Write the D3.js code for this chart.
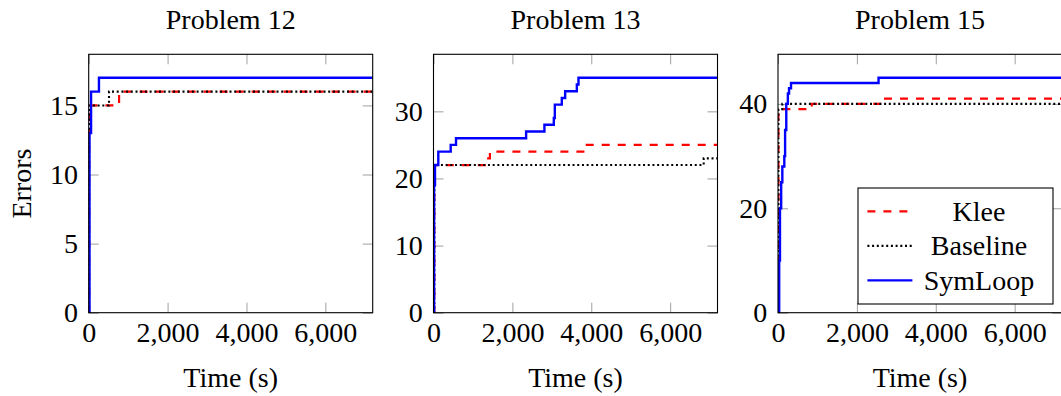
<!DOCTYPE html>
<html>
<head>
<meta charset="utf-8">
<script src="https://cdn.jsdelivr.net/npm/d3@7"></script>
<style>
  body { margin: 0; background: #fff; }
  svg text { font-family: "Liberation Serif", "Times New Roman", serif; fill: #000; }
</style>
</head>
<body>
<svg id="chart"></svg>
<script>
var width = 1061, height = 396;

// [time (s), errors] step points
var p12Klee     = [[0,0],[10,15],[770,16],[7200,16]];
var p12Baseline = [[0,0],[10,15],[515,16],[7200,16]];
var p12SymLoop  = [[0,0],[20,13],[60,16],[260,17],[7200,17]];

var p13Klee     = [[0,0],[20,22],[1350,23],[1430,24],[3830,25],[7200,25]];
var p13Baseline = [[0,0],[20,22],[6850,23],[7200,23]];
var p13SymLoop  = [[0,0],[15,19],[38,22],[122,24],[436,25],[571,26],[2348,27],[2812,28],
                   [3050,29],[3076,31],[3253,32],[3338,33],[3634,34],[3676,35],[7200,35]];

var p15Klee     = [[0,0],[10,39],[856,40],[2635,41],[7200,41]];
var p15Baseline = [[0,0],[10,39],[110,40],[7200,40]];
var p15SymLoop  = [[0,0],[30,10],[50,20],[80,25],[110,28],[160,30],[180,35],[210,40],
                   [250,42],[280,43],[330,44],[2549,45],[7200,45]];

var titles = ["Problem 12", "Problem 13", "Problem 15"];
var xTicks = [0, 2000, 4000, 6000];
var yTicks = [[0,5,10,15], [0,10,20,30], [0,20,40]];
var seriesNames = ["Klee", "Baseline", "SymLoop"];
var panelData = [
  [p12Klee, p12Baseline, p12SymLoop],
  [p13Klee, p13Baseline, p13SymLoop],
  [p15Klee, p15Baseline, p15SymLoop]
];

// styles per series
var styles = {
  "Klee":     {color: "#ff0000", dash: "8,8",   w: 2.2},
  "Baseline": {color: "#000000", dash: "2,2.7", w: 2.1},
  "SymLoop":  {color: "#0000ff", dash: null,    w: 2.4}
};

var fontSize = "28px";
var panelLeft = [88.7, 433.5, 778];
var plotW = 284, plotTop = 54.3, plotBottom = 312.7;

var svg = d3.select("#chart").attr("width", width).attr("height", height);

panelData.forEach(function(series, i) {
  var x = d3.scaleLinear().domain([0, 7200]).range([panelLeft[i], panelLeft[i] + plotW]);
  var ymax = d3.max(series, function(s){ return d3.max(s, function(d){ return d[1]; }); }) * 1.1;
  var y = d3.scaleLinear().domain([0, ymax]).range([plotBottom, plotTop]);

  var g = svg.append("g");

  // ticks (grey, inward, mirrored on all sides)
  var bx = g.append("g").attr("transform", "translate(0," + plotBottom + ")")
    .call(d3.axisBottom(x).tickValues(xTicks).tickFormat(d3.format(",")).tickSize(-10).tickPadding(9));
  var tx = g.append("g").attr("transform", "translate(0," + plotTop + ")")
    .call(d3.axisTop(x).tickValues(xTicks).tickFormat("").tickSize(-10));
  var ly = g.append("g").attr("transform", "translate(" + x.range()[0] + ",0)")
    .call(d3.axisLeft(y).tickValues(yTicks[i]).tickSize(-10).tickPadding(10.7));
  var ry = g.append("g").attr("transform", "translate(" + x.range()[1] + ",0)")
    .call(d3.axisRight(y).tickValues(yTicks[i]).tickFormat("").tickSize(-10));

  [bx, tx, ly, ry].forEach(function(a) {
    a.select(".domain").remove();
    a.selectAll(".tick line").attr("stroke", "#a0a0a0").attr("stroke-width", 1);
    a.selectAll("text").style("font-size", fontSize).attr("fill", "#000")
      .style("font-family", "'Liberation Serif', serif");
  });

  // clip
  g.append("clipPath").attr("id", "clip" + i)
    .append("rect").attr("x", x.range()[0]).attr("y", plotTop)
    .attr("width", plotW).attr("height", plotBottom - plotTop);

  var line = d3.line()
    .x(function(d){ return x(d[0]); })
    .y(function(d){ return y(d[1]); })
    .curve(d3.curveStepAfter);

  series.forEach(function(s, k) {
    var st = styles[seriesNames[k]];
    g.append("path")
      .datum(s)
      .attr("clip-path", "url(#clip" + i + ")")
      .attr("d", line)
      .attr("fill", "none")
      .attr("stroke", st.color)
      .attr("stroke-width", st.w)
      .attr("stroke-dasharray", st.dash);
  });

  // frame
  g.append("rect")
    .attr("x", x.range()[0]).attr("y", plotTop)
    .attr("width", plotW).attr("height", plotBottom - plotTop)
    .attr("fill", "none").attr("stroke", "#000").attr("stroke-width", 1.1);

  // title and x label
  var cx = (x.range()[0] + x.range()[1]) / 2;
  g.append("text").attr("x", cx).attr("y", 29).attr("text-anchor", "middle")
    .style("font-size", fontSize).text(titles[i]);
  g.append("text").attr("x", cx).attr("y", 387).attr("text-anchor", "middle")
    .style("font-size", fontSize).text("Time (s)");

  if (i == 0) {
    g.append("text")
      .attr("transform", "translate(31," + ((plotTop + plotBottom) / 2) + ") rotate(-90)")
      .attr("text-anchor", "middle")
      .style("font-size", fontSize).text("Errors");
  }

  // legend in the last panel
  if (i == 2) {
    var lw = 195, lh = 116;
    var lx = x.range()[1] - 9 - lw, lyy = plotBottom - 8.7 - lh;
    var leg = g.append("g").attr("transform", "translate(" + lx + "," + lyy + ")");
    leg.append("rect").attr("width", lw).attr("height", lh)
      .attr("fill", "#fff").attr("stroke", "#000").attr("stroke-width", 1.1);
    seriesNames.forEach(function(name, k) {
      var st = styles[name];
      var ry0 = 23.4 + k * 34.5;
      leg.append("line")
        .attr("x1", 9.4).attr("x2", 54.4).attr("y1", ry0).attr("y2", ry0)
        .attr("stroke", st.color).attr("stroke-width", st.w)
        .attr("stroke-dasharray", st.dash);
      leg.append("text").attr("x", 121).attr("y", ry0).attr("dy", "0.33em")
        .attr("text-anchor", "middle").style("font-size", fontSize).text(name);
    });
  }
});
</script>
</body>
</html>
